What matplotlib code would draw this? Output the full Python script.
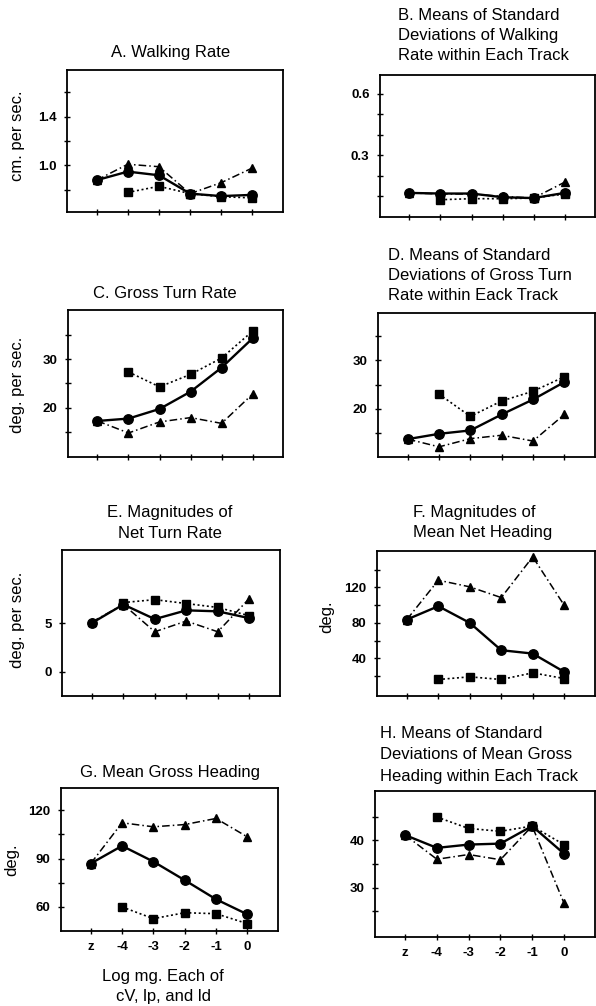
import matplotlib
matplotlib.use("Agg")
import matplotlib.pyplot as plt
import numpy as np

plt.rcParams['font.family'] = ['Liberation Sans', 'DejaVu Sans']

W, H = 596, 1006
nan = np.nan

dose_labels = ["z", "-4", "-3", "-2", "-1", "0"]

# A. Walking Rate
walk_circle = [0.88, 0.95, 0.92, 0.77, 0.75, 0.76]
walk_triangle = [0.88, 1.01, 0.99, 0.77, 0.86, 0.98]
walk_square = [nan, 0.78, 0.83, 0.77, 0.745, 0.735]

# B. SD of walking rate
sdwalk_circle = [0.117, 0.114, 0.114, 0.096, 0.092, 0.117]
sdwalk_triangle = [0.117, 0.112, 0.112, 0.10, 0.092, 0.169]
sdwalk_square = [nan, 0.084, 0.089, 0.089, 0.092, 0.112]

# C. Gross turn rate
gturn_circle = [17.2, 17.7, 19.7, 23.3, 28.3, 34.4]
gturn_triangle = [17.2, 14.7, 17.0, 17.9, 16.7, 22.8]
gturn_square = [nan, 27.4, 24.3, 26.9, 30.3, 35.9]

# D. SD of gross turn rate
sdturn_circle = [13.7, 14.8, 15.5, 18.8, 21.9, 25.5]
sdturn_triangle = [13.7, 12.1, 13.8, 14.5, 13.3, 18.8]
sdturn_square = [nan, 23.0, 18.4, 21.6, 23.6, 26.6]

# E. Net turn rate magnitudes
nturn_circle = [5.0, 6.9, 5.4, 6.3, 6.2, 5.5]
nturn_triangle = [5.1, 6.9, 4.1, 5.2, 4.1, 7.5]
nturn_square = [nan, 7.1, 7.4, 7.0, 6.6, 5.75]

# F. Mean net heading magnitudes
nhead_circle = [83.8, 98.8, 80.0, 49.2, 45.4, 24.8]
nhead_triangle = [83.8, 128.1, 120.6, 108.5, 154.4, 99.9]
nhead_square = [nan, 16.2, 19.2, 16.2, 23.7, 17.3]

# G. Mean gross heading
ghead_circle = [86.9, 97.9, 88.1, 76.5, 64.6, 55.2]
ghead_triangle = [86.9, 112.3, 109.8, 111.2, 115.0, 103.5]
ghead_square = [nan, 59.8, 52.5, 56.2, 55.6, 49.4]

# H. SD of mean gross heading
sdhead_circle = [41.1, 38.4, 39.1, 39.3, 43.0, 37.2]
sdhead_triangle = [41.1, 36.0, 37.0, 35.9, 43.0, 26.8]
sdhead_square = [nan, 44.9, 42.5, 41.9, 43.0, 39.1]

fig = plt.figure(figsize=(W / 100, H / 100), dpi=100)


def add_axes_px(x0, y0, x1, y1):
    return fig.add_axes([x0 / W, 1 - y1 / H, (x1 - x0) / W, (y1 - y0) / H])


def ftext(x, y, s, **kw):
    fig.text(x / W, 1 - y / H, s, **kw)


panels = [
    dict(box=(67, 70, 283, 212), data=(walk_circle, walk_triangle, walk_square),
         ylim=(0.62, 1.78), ticks=[0.8, 1.0, 1.2, 1.4, 1.6], labels=["", "1.0", "", "1.4", ""]),
    dict(box=(380, 75, 595, 217), data=(sdwalk_circle, sdwalk_triangle, sdwalk_square),
         ylim=(0.0, 0.69), ticks=[0.1, 0.2, 0.3, 0.4, 0.5, 0.6], labels=["", "", "0.3", "", "", "0.6"]),
    dict(box=(68, 310, 283, 457), data=(gturn_circle, gturn_triangle, gturn_square),
         ylim=(9.7, 40.3), ticks=[15, 20, 25, 30, 35], labels=["", "20", "", "30", ""]),
    dict(box=(378, 313, 595, 457), data=(sdturn_circle, sdturn_triangle, sdturn_square),
         ylim=(10.0, 39.8), ticks=[15, 20, 25, 30, 35], labels=["", "20", "", "30", ""]),
    dict(box=(62, 550, 280, 696), data=(nturn_circle, nturn_triangle, nturn_square),
         ylim=(-2.5, 12.5), ticks=[0, 5], labels=["0", "5"]),
    dict(box=(377, 551, 595, 696), data=(nhead_circle, nhead_triangle, nhead_square),
         ylim=(-2.4, 161), ticks=[20, 40, 60, 80, 100, 120, 140], labels=["", "40", "", "80", "", "120", ""]),
    dict(box=(61, 788, 278, 931), data=(ghead_circle, ghead_triangle, ghead_square),
         ylim=(44.8, 134), ticks=[60, 75, 90, 105, 120], labels=["60", "", "90", "", "120"], xlab=True),
    dict(box=(375, 791, 595, 937), data=(sdhead_circle, sdhead_triangle, sdhead_square),
         ylim=(19.6, 50.4), ticks=[25, 30, 35, 40, 45], labels=["", "30", "", "40", ""], xlab=True),
]

x = np.arange(len(dose_labels))

for p in panels:
    ax = add_axes_px(*p["box"])
    circ, tri, sq = p["data"]
    ax.plot(x, sq, linestyle=(0, (1.2, 1.6)), color="black", lw=1.2,
            marker="s", ms=5.8, mfc="black", mec="black", zorder=3)
    ax.plot(x, tri, linestyle=(0, (5, 2, 1, 2)), color="black", lw=1.1,
            marker="^", ms=5.8, mfc="black", mec="black", zorder=3)
    ax.plot(x, circ, linestyle="-", color="black", lw=1.7,
            marker="o", ms=6.8, mfc="black", mec="black", zorder=4)
    ax.set_xlim(-0.95, 5.98)
    ax.set_ylim(*p["ylim"])
    ax.set_xticks(x)
    if p.get("xlab"):
        ax.set_xticklabels(dose_labels, fontsize=9.5, fontweight="bold")
    else:
        ax.set_xticklabels([""] * len(x))
    ax.set_yticks(p["ticks"])
    ax.set_yticklabels(p["labels"], fontsize=9.5, fontweight="bold")
    ax.tick_params(direction="inout", length=5, width=1, pad=5)
    for s in ax.spines.values():
        s.set_linewidth(1.3)

tkw = dict(fontsize=12, va="center")
# titles
ftext(171, 53, "A. Walking Rate", ha="center", **tkw)
for i, s in enumerate(["B. Means of Standard", "Deviations of Walking", "Rate within Each Track"]):
    ftext(398, 15 + 20.5 * i, s, ha="left", **tkw)
ftext(165, 293, "C. Gross Turn Rate", ha="center", **tkw)
for i, s in enumerate(["D. Means of Standard", "Deviations of Gross Turn", "Rate within Eack Track"]):
    ftext(388, 255 + 20 * i, s, ha="left", **tkw)
ftext(170, 512, "E. Magnitudes of", ha="center", **tkw)
ftext(170, 533, "Net Turn Rate", ha="center", **tkw)
ftext(413, 512, "F. Magnitudes of", ha="left", **tkw)
ftext(413, 532, "Mean Net Heading", ha="left", **tkw)
ftext(170, 773, "G. Mean Gross Heading", ha="center", **tkw)
for i, s in enumerate(["H. Means of Standard", "Deviations of Mean Gross", "Heading within Each Track"]):
    ftext(380, 733 + 21.5 * i, s, ha="left", **tkw)

# y labels
ykw = dict(fontsize=12, rotation=90, ha="center", va="center")
ftext(18, 136, "cm. per sec.", **ykw)
ftext(18, 385, "deg. per sec.", **ykw)
ftext(18, 620, "deg. per sec.", **ykw)
ftext(327, 617, "deg.", **ykw)
ftext(12, 860, "deg.", **ykw)

# x label
ftext(163, 977, "Log mg. Each of", ha="center", **tkw)
ftext(163, 996, "cV, lp, and ld", ha="center", **tkw)

fig.savefig("out.png", dpi=100)
